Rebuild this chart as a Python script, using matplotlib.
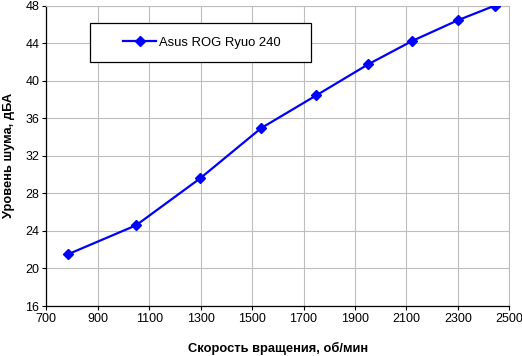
import numpy as np
import matplotlib
matplotlib.use("Agg")
import matplotlib.pyplot as plt
from matplotlib.patches import Rectangle

plt.rcParams['font.family'] = ['Liberation Sans', 'DejaVu Sans']

rpm = [783, 1049, 1298, 1535, 1750, 1951, 2123, 2300, 2443]
noise = [21.5, 24.6, 29.6, 34.95, 38.45, 41.75, 44.25, 46.45, 48.0]
series_name = "Asus ROG Ryuo 240"
xticks = list(range(700, 2501, 200))
yticks = list(range(16, 49, 4))

fig = plt.figure(figsize=(5.22, 3.56), dpi=100)
ax = fig.add_axes([0.0887, 0.1404, 0.8870, 0.8436])

ax.plot(rpm, noise, color='#0000FF', linewidth=1.6, marker='D',
        markersize=5.5, label=series_name, zorder=3)

ax.set_xlim(700, 2500)
ax.set_ylim(16, 48)
ax.set_xticks(xticks)
ax.set_yticks(yticks)
ax.tick_params(labelsize=9, direction='out', length=3, width=0.8, pad=2)
ax.grid(True, color='#BEBEBE', linewidth=0.8)
ax.set_axisbelow(True)
ax.spines['top'].set_color('#BEBEBE')
ax.spines['right'].set_color('#BEBEBE')
for s in ['left', 'bottom']:
    ax.spines[s].set_color('black')
    ax.spines[s].set_linewidth(0.9)

ax.set_xlabel("Скорость вращения, об/мин", fontsize=9.3, fontweight='bold', labelpad=12)
ax.set_ylabel("Уровень шума, дБА", fontsize=9.3, fontweight='bold', labelpad=7.5)

# legend box
ax.add_patch(Rectangle((0.094, 0.813), 0.478, 0.129, transform=ax.transAxes,
                       facecolor='white', edgecolor='black', linewidth=0.9, zorder=4))
leg = ax.legend(loc='center', bbox_to_anchor=(0.336, 0.8775), frameon=False,
                fontsize=9.4, handlelength=2.5, handletextpad=0.2)
leg.set_zorder(5)

fig.savefig("out.png", dpi=100)
